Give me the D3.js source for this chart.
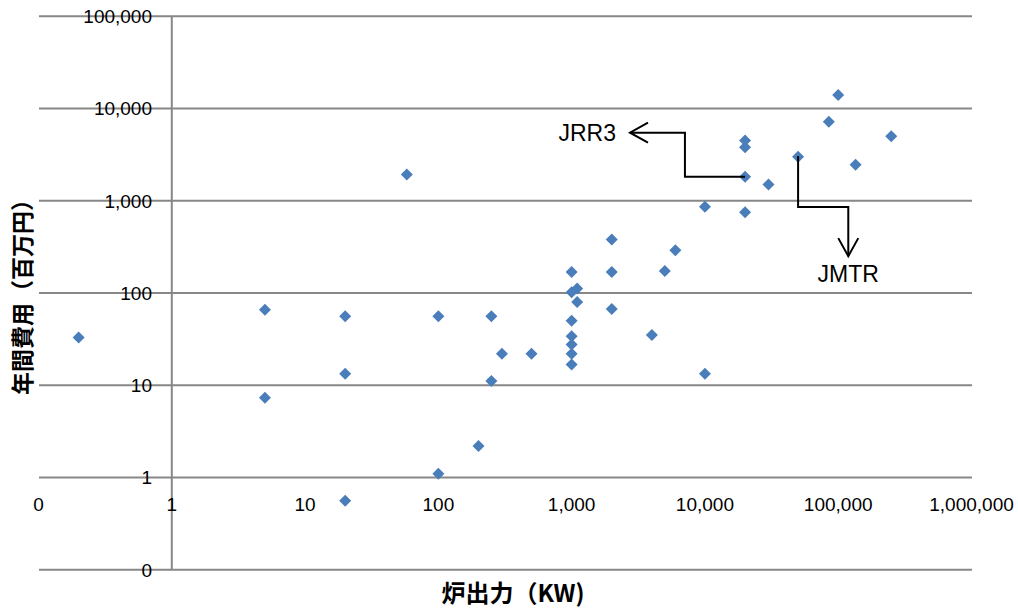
<!DOCTYPE html>
<html>
<head>
<meta charset="utf-8">
<script src="https://cdn.jsdelivr.net/npm/d3@7"></script>
<style>
  html, body { margin: 0; padding: 0; background: #fff; }
  svg { display: block; }
</style>
</head>
<body>
<svg id="chart" width="1018" height="610"></svg>
<script>
// ---- data ----
const reactorPowerKW = [0.2, 5, 5, 20, 20, 20, 58, 100, 100, 200, 250, 250, 300, 500,
  1000, 2000, 2000, 6000, 5000, 1000, 1100, 1100, 2000, 1000, 4000, 1000, 1000, 1000, 1000,
  10000, 100000, 85000, 250000, 20000, 20000, 50000, 135000, 20000, 30000, 10000, 20000];
const annualCost = [33, 66, 7.3, 56, 13.3, 0.56, 1930, 56, 1.1, 2.2, 56, 11.1, 22, 22,
  169, 380, 169, 290, 173, 102, 112, 80, 67, 50, 35, 34, 27.7, 22, 16.8,
  13.3, 14000, 7200, 5000, 4500, 3800, 3000, 2450, 1820, 1500, 860, 750];

const xTickValues = [0.1, 1, 10, 100, 1000, 10000, 100000, 1000000];
const xTickLabels = ["0", "1", "10", "100", "1,000", "10,000", "100,000", "1,000,000"];
const yTickValues = [0.1, 1, 10, 100, 1000, 10000, 100000];
const yTickLabels = ["0", "1", "10", "100", "1,000", "10,000", "100,000"];

const xTitle = "炉出力（KW)";
const yTitle = "年間費用（百万円）";

// annotations (data space)
const jrr3Label = "JRR3";
const jrr3Path = [[20000, 1820], [7080, 1820], [7080, 5480], [2740, 5480]];
const jrr3LabelPos = [2150, 5480];
const jmtrLabel = "JMTR";
const jmtrPath = [[50000, 3050], [50000, 855], [119000, 855], [119000, 251]];
const jmtrLabelPos = [119000, 163];

// ---- chart ----
const svg = d3.select("#chart");
const x = d3.scaleLog().domain([0.1, 1e6]).range([38.5, 971.5]);
const y = d3.scaleLog().domain([0.1, 1e5]).range([569.7, 16.3]);
const gridColor = "#878787";
const font = "'Liberation Sans', Arial, sans-serif";
const cjk = "'Noto Sans CJK JP', sans-serif";

// horizontal gridlines
svg.append("g").selectAll("line").data(yTickValues).join("line")
  .attr("x1", 39).attr("x2", 972)
  .attr("y1", d => y(d)).attr("y2", d => y(d))
  .attr("stroke", gridColor).attr("stroke-width", 2);

// vertical axis line at x = 1
svg.append("line")
  .attr("x1", x(1)).attr("x2", x(1))
  .attr("y1", y(1e5)).attr("y2", y(0.1))
  .attr("stroke", gridColor).attr("stroke-width", 2);

// y tick labels
svg.append("g").selectAll("text").data(yTickValues).join("text")
  .attr("x", 152).attr("y", d => y(d)).attr("dy", "0.36em")
  .attr("text-anchor", "end")
  .attr("font-family", font).attr("font-size", 19).attr("fill", "#000")
  .text((d, i) => yTickLabels[i]);

// x tick labels
svg.append("g").selectAll("text").data(xTickValues).join("text")
  .attr("x", d => x(d)).attr("y", y(1) + 27).attr("dy", "0.36em")
  .attr("text-anchor", "middle")
  .attr("font-family", font).attr("font-size", 19).attr("fill", "#000")
  .text((d, i) => xTickLabels[i]);

// points
const pts = reactorPowerKW.map((p, i) => ({ p, c: annualCost[i] }));
const diamond = d3.symbol(d3.symbolSquare, 72);
svg.append("g").selectAll("path").data(pts).join("path")
  .attr("d", diamond)
  .attr("transform", d => `translate(${x(d.p)},${y(d.c)}) rotate(45)`)
  .attr("fill", "#4a7ebb");

// annotations
const line = d3.line().x(d => x(d[0])).y(d => y(d[1]));
function arrow(path) {
  svg.append("path").attr("d", line(path))
    .attr("fill", "none").attr("stroke", "#000").attr("stroke-width", 2);
  const a = path[path.length - 2], b = path[path.length - 1];
  const ax = x(a[0]), ay = y(a[1]), bx = x(b[0]), by = y(b[1]);
  const len = Math.hypot(bx - ax, by - ay);
  const ux = (bx - ax) / len, uy = (by - ay) / len;
  const L = 18, W = 10;
  const p1 = [bx - ux * L - uy * W, by - uy * L + ux * W];
  const p2 = [bx - ux * L + uy * W, by - uy * L - ux * W];
  svg.append("path").attr("d", `M${p1[0]},${p1[1]}L${bx},${by}L${p2[0]},${p2[1]}`)
    .attr("fill", "none").attr("stroke", "#000").attr("stroke-width", 2);
}
arrow(jrr3Path);
arrow(jmtrPath);

svg.append("text")
  .attr("x", x(jrr3LabelPos[0])).attr("y", y(jrr3LabelPos[1])).attr("dy", "0.36em")
  .attr("text-anchor", "end")
  .attr("font-family", font).attr("font-size", 23).attr("fill", "#000")
  .text(jrr3Label);
svg.append("text")
  .attr("x", x(jmtrLabelPos[0])).attr("y", y(jmtrLabelPos[1])).attr("dy", "0.36em")
  .attr("text-anchor", "middle")
  .attr("font-family", font).attr("font-size", 23).attr("fill", "#000")
  .text(jmtrLabel);

// axis titles
svg.append("text")
  .attr("x", 513).attr("y", 593).attr("dy", "0.36em")
  .attr("text-anchor", "middle")
  .attr("font-family", cjk).attr("font-weight", "bold").attr("font-size", 24).attr("fill", "#000")
  .text(xTitle);
svg.append("text")
  .attr("transform", "translate(23,291.5) rotate(-90)")
  .attr("dy", "0.36em")
  .attr("text-anchor", "middle")
  .attr("font-family", cjk).attr("font-weight", "bold").attr("font-size", 23).attr("fill", "#000")
  .text(yTitle);
</script>
</body>
</html>
